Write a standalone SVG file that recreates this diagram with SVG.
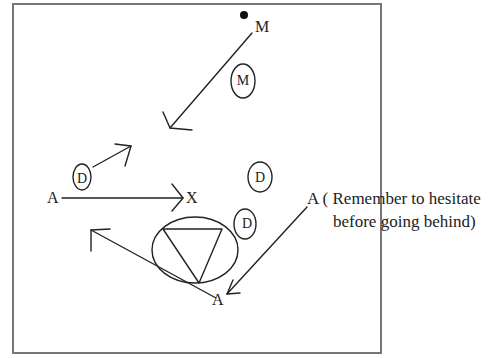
<svg xmlns="http://www.w3.org/2000/svg" width="490" height="358" viewBox="0 0 490 358">
<style>
.t{font-family:"Liberation Serif","Times New Roman",serif;font-size:16px;fill:#222}
.r{font-family:"Liberation Serif","Times New Roman",serif;font-size:17px;fill:#222}
.s{font-family:"Liberation Serif","Times New Roman",serif;font-size:14px;fill:#222}
.ln{fill:none;stroke:#222;stroke-width:1.4;stroke-linecap:round;stroke-linejoin:round}
</style>
<rect width="490" height="358" fill="#fff"/>
<rect x="13" y="4" width="368" height="349" fill="none" stroke="#777" stroke-width="2"/>
<g id="nodes">
<g id="dotM"><circle cx="244" cy="15" r="4" fill="#111"/><text class="t" x="255" y="32">M</text></g>
<g id="M"><ellipse class="ln" cx="243" cy="81" rx="12" ry="17"/><text class="s" x="243" y="85" text-anchor="middle">M</text></g>
<g id="D1"><ellipse class="ln" cx="82" cy="177" rx="9" ry="13"/><text class="s" x="82" y="183" text-anchor="middle">D</text></g>
<g id="D2"><ellipse class="ln" cx="260" cy="177" rx="12" ry="15"/><text class="s" x="260" y="182" text-anchor="middle">D</text></g>
<g id="D3"><ellipse class="ln" cx="245" cy="224" rx="11" ry="15"/><text class="s" x="247" y="228" text-anchor="middle">D</text></g>
<g id="A1"><text class="t" x="47" y="203">A</text></g>
<g id="X"><text class="t" x="186" y="203">X</text></g>
<g id="A2"><text class="t" x="212" y="305">A</text></g>
<g id="A3"><text class="r" x="307" y="204">A ( Remember to hesitate</text><text class="r" x="333" y="227">before going behind)</text></g>
<g id="ring"><ellipse class="ln" cx="195" cy="250" rx="43" ry="33"/><polygon class="ln" points="163,229 222,229 199,283"/></g>
</g>
<g id="connectors">
<line class="ln" x1="252" y1="33" x2="170" y2="128"/><polyline class="ln" points="163,112 170,128 192,130"/>
<line class="ln" x1="93" y1="167" x2="131" y2="146"/><polyline class="ln" points="115,144 131,146 125,166"/>
<line class="ln" x1="62" y1="198" x2="183" y2="198"/><polyline class="ln" points="172,184 183,198 172,211"/>
<line class="ln" x1="216" y1="298" x2="91" y2="230"/><polyline class="ln" points="110,229 91,230 91,251"/>
<line class="ln" x1="307" y1="207" x2="227" y2="294"/><polyline class="ln" points="233,280 227,294 240,293"/>
</g>
</svg>
